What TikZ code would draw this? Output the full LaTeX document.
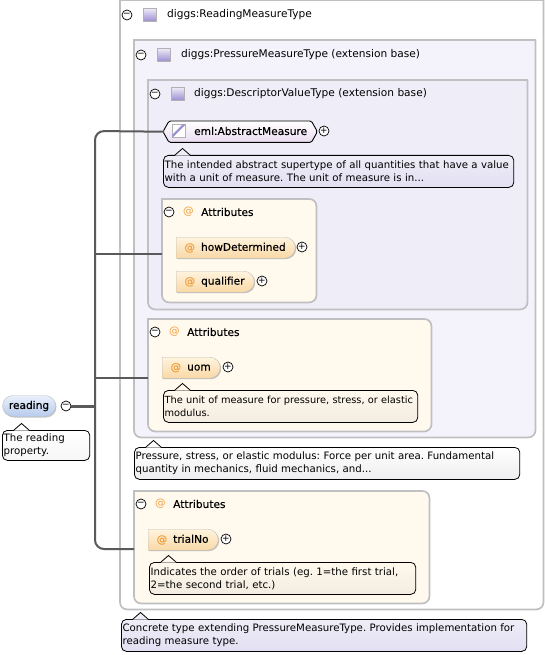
\documentclass[tikz,border=0pt]{standalone}
\usepackage{fontspec}
\setmainfont{DejaVu Sans}
\newfontfamily\medfont[FakeBold=0.5]{DejaVu Sans}
\usepackage{xcolor}
\usetikzlibrary{arrows.meta, positioning, shapes.misc, shadows}
\definecolor{lilac}{HTML}{F4F2FA}
\definecolor{lilacdeep}{HTML}{EFEDF7}
\definecolor{lilacnote}{HTML}{E2DFF2}
\definecolor{cream}{HTML}{FFF9EE}
\definecolor{creamnote}{HTML}{F3ECE0}
\definecolor{greynote}{HTML}{EEEEF0}
\definecolor{frame}{HTML}{C0C0C2}
\definecolor{busline}{HTML}{5A5A5A}
\definecolor{atsign}{HTML}{F0A040}
\definecolor{iconlow}{HTML}{9C8CD0}
\definecolor{iconhigh}{HTML}{EDEAF8}
\definecolor{pilltop}{HTML}{FFF4DE}
\definecolor{pilllow}{HTML}{F9D8A6}
\definecolor{roottop}{HTML}{EAF0FB}
\definecolor{rootlow}{HTML}{B6CBEC}
\definecolor{abslow}{HTML}{EADCF0}

\begin{document}
\frenchspacing
\begin{tikzpicture}[x=1pt, y=-1pt, >=Stealth,
        panel/.style={anchor=north west, inner sep=0pt},
        head/.style={anchor=west, inner sep=0pt, font=\fontsize{10.6}{12}\selectfont},
        attrhead/.style={anchor=west, inner sep=0pt, font=\fontsize{10.6}{12}\medfont},
        toggle/.style={circle, draw=black, fill=white, line width=0.7pt, minimum size=10pt, inner sep=0pt, font=\fontsize{9}{9}\selectfont},
        typeicon/.style={rectangle, draw=black!30, top color=iconhigh, bottom color=iconlow, minimum size=13pt, inner sep=0pt},
        attrmark/.style={anchor=west, inner sep=0pt, text=atsign, font=\fontsize{10.6}{12}\selectfont},
        pill/.style={rounded rectangle, rounded rectangle west arc=none, anchor=north west, draw=black!25, top color=pilltop, bottom color=pilllow, drop shadow={shadow xshift=1pt, shadow yshift=-1pt, fill=black!45}, minimum height=21pt, inner sep=0pt, font=\fontsize{10.6}{12}\medfont},
        note/.style={rectangle, rounded corners=5pt, draw=black, line width=0.8pt, anchor=north west, align=left, inner xsep=1.2pt, inner ysep=0pt, minimum height=32pt, font=\fontsize{10.2}{13.2}\selectfont},
        bus/.style={draw=busline, line width=2pt, rounded corners=9pt},
        branch/.style={draw=busline, line width=1.5pt}]

    \useasboundingbox (0,0) rectangle (545,655);
    \fill[white] (0,0) rectangle (545,655);

    % nested containers
    \node (outerBox) [panel, minimum width=423pt, minimum height=609pt] at (120,0) {};
    \node (pressureBox) [panel, minimum width=401pt, minimum height=397pt] at (134,40) {};
    \node (descBox) [panel, minimum width=379pt, minimum height=229pt] at (148,80) {};
    \node (attrsA) [panel, minimum width=154pt, minimum height=103pt] at (162,199) {};
    \node (attrsB) [panel, minimum width=283pt, minimum height=112pt] at (148,319) {};
    \node (attrsC) [panel, minimum width=295pt, minimum height=112pt] at (134,491) {};
    \foreach \n/\c/\r in {outerBox/white/0.01pt, pressureBox/lilac/0.01pt, descBox/lilacdeep/0.01pt, attrsA/cream/7pt, attrsB/cream/7pt, attrsC/cream/7pt}
        \draw[frame, line width=1.7pt, fill=\c] (\n.north west) [rounded corners=\r] -- (\n.north east) [rounded corners=7pt] -- (\n.south east) -- (\n.south west) [sharp corners] -- cycle;

    % header rules
    \foreach \xa/\xb/\ya/\yb/\c in {122/440/29/30.5/white, 136/440/68/69.5/lilac, 150/436/108/109.5/lilacdeep, 164/282/225/226.5/cream, 150/400/345/346.5/cream, 136/400/517/518.5/cream}
        \shade[left color=\c, middle color=black!20!\c, right color=\c] (\xa,\ya) rectangle (\xb,\yb);

    % bus from the root
    \node (rootPill) [rounded rectangle, draw=black!25, top color=roottop, bottom color=rootlow, drop shadow={shadow xshift=1pt, shadow yshift=-1pt, fill=black!45}, minimum height=21pt, inner sep=0pt, inner xsep=5pt, font=\fontsize{10.6}{12}\medfont] at (29,406) {reading};
    \node (rootToggle) [toggle] at (66,406) {−};
    \node (absNode) [panel, minimum width=154pt, minimum height=21pt] at (163,121) {};
    \draw[black, line width=0.9pt, top color=white, bottom color=abslow, rounded corners=1.5pt] (absNode.west) -- ([xshift=6pt]absNode.north west) -- ([xshift=-6pt]absNode.north east) -- (absNode.east) -- ([xshift=-6pt]absNode.south east) -- ([xshift=6pt]absNode.south west) -- cycle;
    \coordinate (busTop) at (95,131);
    \coordinate (busRoot) at (95,406);
    \coordinate (busLow) at (95,549);
    \coordinate (busMidA) at (95,254);
    \coordinate (busMidB) at (95,378);
    \coordinate (attrsAEnd) at (162,254);
    \coordinate (attrsBEnd) at (148,378);
    \coordinate (attrsCEnd) at (134,549);
    \draw[bus] (absNode.west) -- (busTop) -- (busLow) -- (attrsCEnd);
    \draw[branch] (busMidA) -- (attrsAEnd);
    \draw[branch] (busMidB) -- (attrsBEnd);
    \draw[draw=busline, line width=3pt] (rootToggle.east) -- (busRoot);

    % headers
    \node (hdrToggleA) [toggle] at (127,15) {−};
    \node (hdrIconA) [typeicon] at (149.5,15) {};
    \node (hdrTextA) [head] at (167,15) {diggs:ReadingMeasureType};
    \node (hdrToggleB) [toggle] at (141,55) {−};
    \node (hdrIconB) [typeicon] at (163.5,55) {};
    \node (hdrTextB) [head] at (181,55) {diggs:PressureMeasureType (extension base)};
    \node (hdrToggleC) [toggle] at (155,94) {−};
    \node (hdrIconC) [typeicon] at (177.5,94) {};
    \node (hdrTextC) [head] at (194,94) {diggs:DescriptorValueType (extension base)};

    \node (abstractIcon) [rectangle, draw=black!30, fill=white, minimum size=13pt, inner sep=0pt] at (179,131) {};
    \fill[iconlow] (abstractIcon.south west) -- (abstractIcon.north east) -- ([xshift=-3pt]abstractIcon.north east) -- ([yshift=3pt]abstractIcon.south west) -- cycle;
    \node (absText) [attrhead] at (194,131) {eml:AbstractMeasure};
    \node (absPlus) [toggle] at (324,131) {+};

    \node (attrToggleA) [toggle] at (169,212) {−};
    \node (attrMarkA) [attrmark] at (183,212) {@};
    \node (attrTextA) [attrhead] at (201,212) {Attributes};
    \node (attrToggleB) [toggle] at (155,332) {−};
    \node (attrMarkB) [attrmark] at (169,332) {@};
    \node (attrTextB) [attrhead] at (187,332) {Attributes};
    \node (attrToggleC) [toggle] at (141,504) {−};
    \node (attrMarkC) [attrmark] at (155,504) {@};
    \node (attrTextC) [attrhead] at (173,504) {Attributes};

    % attributes
    \node (howPill) [pill, minimum width=119pt] at (176,237) {\textcolor{atsign}{@}\hspace{6pt}howDetermined};
    \node (howPlus) [toggle] at (302,247) {+};
    \node (qualPill) [pill, minimum width=78pt] at (176,271) {\textcolor{atsign}{@}\hspace{6pt}qualifier};
    \node (qualPlus) [toggle] at (262,281) {+};
    \node (uomPill) [pill, minimum width=58pt] at (162,357) {\textcolor{atsign}{@}\hspace{6pt}uom};
    \node (uomPlus) [toggle] at (228,367) {+};
    \node (trialPill) [pill, minimum width=70pt] at (148,529) {\textcolor{atsign}{@}\hspace{6pt}trialNo};
    \node (trialPlus) [toggle] at (226,539) {+};

    % notes
    \node (rootNote) [note, top color=white, bottom color=greynote!50!white, text width=85pt, minimum height=30pt] at (2,430) {The reading\\property.};
    \node (absNote) [note, top color=lilacdeep, bottom color=lilacnote, text width=348pt] at (163,155) {The intended abstract supertype of all quantities that have a value\\with a unit of measure. The unit of measure is in...};
    \node (uomNote) [note, top color=cream, bottom color=creamnote, text width=252pt, font=\fontsize{9.8}{13.2}\selectfont] at (163,390) {The unit of measure for pressure, stress, or elastic\\modulus.};
    \node (pressureNote) [note, top color=white, bottom color=greynote, text width=383pt] at (134,447) {Pressure, stress, or elastic modulus: Force per unit area. Fundamental\\quantity in mechanics, fluid mechanics, and...};
    \node (trialNote) [note, top color=cream, bottom color=creamnote, text width=264pt] at (149,562) {Indicates the order of trials (eg. 1=the first trial,\\2=the second trial, etc.)};
    \node (typeNote) [note, top color=lilacdeep, bottom color=lilacnote, text width=403pt] at (121,619) {Concrete type extending PressureMeasureType. Provides implementation for\\reading measure type.};
    \foreach \n/\c in {rootNote/white, absNote/lilacdeep, uomNote/cream, pressureNote/white, trialNote/cream, typeNote/lilacdeep} {
        \fill[\c] ([xshift=12pt,yshift=-0.6pt]\n.north west) -- ([xshift=19.5pt,yshift=6.5pt]\n.north west) -- ([xshift=27pt,yshift=-0.6pt]\n.north west) -- cycle;
        \draw[black, line width=0.8pt] ([xshift=12pt]\n.north west) -- ([xshift=19.5pt,yshift=6.5pt]\n.north west) -- ([xshift=27pt]\n.north west);
    }
\end{tikzpicture}
\end{document}
